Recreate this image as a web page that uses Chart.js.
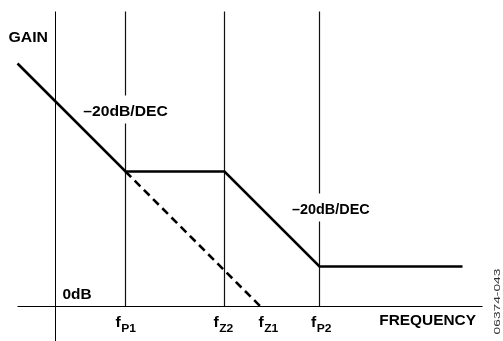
<!DOCTYPE html>
<html><head><meta charset="utf-8">
<script src="https://cdn.jsdelivr.net/npm/chart.js@4"></script>
<style>html,body{margin:0;padding:0;background:#fff}#wrap{width:503px;height:341px;position:relative}</style>
</head><body><div id="wrap"><canvas id="c"></canvas></div>
<script>
// Frequency in decades (log10 f, relative), gain in dB
const curveFreq = [-0.38, 0.70, 1.69, 2.64, 4.07];
const curveGain = [48.6, 27, 27, 8, 8];
const asymptoteFreq = [0.70, 2.05];
const asymptoteGain = [27, 0];
const markerNames = ['P1', 'Z2', 'Z1', 'P2'];
const markerFreq = [0.70, 1.69, 2.05, 2.64];
const markerHasLine = [true, true, false, true];
const markerLabelShift = [-10, -11, -2, -8.5];
const axisFreq = [-0.38, 4.27];
const axisGainTop = 59;
const slopeLabels = ['\u201320dB/DEC', '\u201320dB/DEC'];
const axisTitles = { y: 'GAIN', x: 'FREQUENCY', zero: '0dB' };
const figureCode = '06374-043';

const FONT = '"Liberation Sans", Arial, Helvetica, sans-serif';
const pts = (xs, ys) => xs.map((x, i) => ({ x, y: ys[i] }));

const datasets = [];
datasets.push({ data: pts(curveFreq, curveGain), borderColor: '#000', borderWidth: 2.6, borderCapStyle: 'butt' });
datasets.push({ data: pts(asymptoteFreq, asymptoteGain), borderColor: '#000', borderWidth: 2.6, borderDash: [8, 5] });
datasets.push({ data: pts(axisFreq, [0, 0]), borderColor: '#000', borderWidth: 1 });
datasets.push({ data: [{ x: 0, y: -10 }, { x: 0, y: axisGainTop }], borderColor: '#000', borderWidth: 1 });
markerFreq.forEach((f, i) => {
  if (markerHasLine[i]) datasets.push({ data: [{ x: f, y: 0 }, { x: f, y: axisGainTop }], borderColor: '#111', borderWidth: 1.2 });
});

function txt(ctx, s, x, y, font, align, sx, color) {
  ctx.save();
  ctx.font = font; ctx.textBaseline = 'alphabetic'; ctx.textAlign = 'left';
  ctx.fillStyle = color || '#000';
  const w = ctx.measureText(s).width * sx;
  const left = align === 'center' ? x - w / 2 : align === 'right' ? x - w : x;
  ctx.translate(left, y); ctx.scale(sx, 1); ctx.fillText(s, 0, 0);
  ctx.restore();
  return { left, w };
}

const labelsPlugin = {
  id: 'labels',
  afterDatasetsDraw(chart) {
    const ctx = chart.ctx;
    const xs = chart.scales.x, ys = chart.scales.y;
    const X = v => xs.getPixelForValue(v), Y = v => ys.getPixelForValue(v);
    const B14 = 'bold 14px ' + FONT;
    // slope labels with white knock-out boxes
    const slope = [
      { x: X(markerFreq[0]), y: Y(27) - 56, align: 'center', sx: 1.12 },
      { x: X(markerFreq[3]) - 27.5, y: Y(8) - 53, align: 'left', sx: 1.03 }
    ];
    slope.forEach((p, i) => {
      ctx.save(); ctx.font = B14;
      const w = ctx.measureText(slopeLabels[i]).width * p.sx;
      const left = p.align === 'center' ? p.x - w / 2 : p.x;
      ctx.fillStyle = '#fff';
      ctx.fillRect(left - 3, p.y - 20, w + 6, 28);
      ctx.restore();
      txt(ctx, slopeLabels[i], p.x, p.y, B14, p.align, p.sx);
    });
    // axis titles
    txt(ctx, axisTitles.y, X(0) - 7.5, Y(axisGainTop) + 30, B14, 'right', 1.13);
    txt(ctx, axisTitles.zero, X(0) + 7, Y(0) - 7.5, B14, 'left', 1.1);
    txt(ctx, axisTitles.x, 476, Y(0) + 18.5, B14, 'right', 1.1);
    // frequency marker labels
    markerFreq.forEach((f, i) => {
      const base = Y(0) + 20;
      const r = txt(ctx, 'f', X(f) + markerLabelShift[i], base, 'bold 15px ' + FONT, 'left', 1.05);
      txt(ctx, markerNames[i], r.left + r.w + 0.5, base + 5, 'bold 11.5px ' + FONT, 'left', 1.05);
    });
    // figure code, rotated
    ctx.save();
    ctx.translate(500, 301.5);
    ctx.rotate(-Math.PI / 2);
    ctx.font = '9.5px ' + FONT; ctx.fillStyle = '#333'; ctx.textAlign = 'left'; ctx.textBaseline = 'alphabetic';
    const w = ctx.measureText(figureCode).width * 1.45;
    ctx.translate(-w / 2, 0); ctx.scale(1.45, 1);
    ctx.fillText(figureCode, 0, 0);
    ctx.restore();
  }
};

new Chart(document.getElementById('c'), {
  type: 'line',
  data: { datasets },
  options: {
    responsive: true, maintainAspectRatio: false, animation: false,
    layout: { padding: 0 },
    plugins: { legend: { display: false }, tooltip: { enabled: false } },
    scales: {
      x: { type: 'linear', display: false, min: -0.555, max: 4.475 },
      y: { type: 'linear', display: false, min: -6.9, max: 61.3 }
    },
    elements: { point: { radius: 0 }, line: { tension: 0, fill: false } }
  },
  plugins: [labelsPlugin]
});
</script>
</body></html>
